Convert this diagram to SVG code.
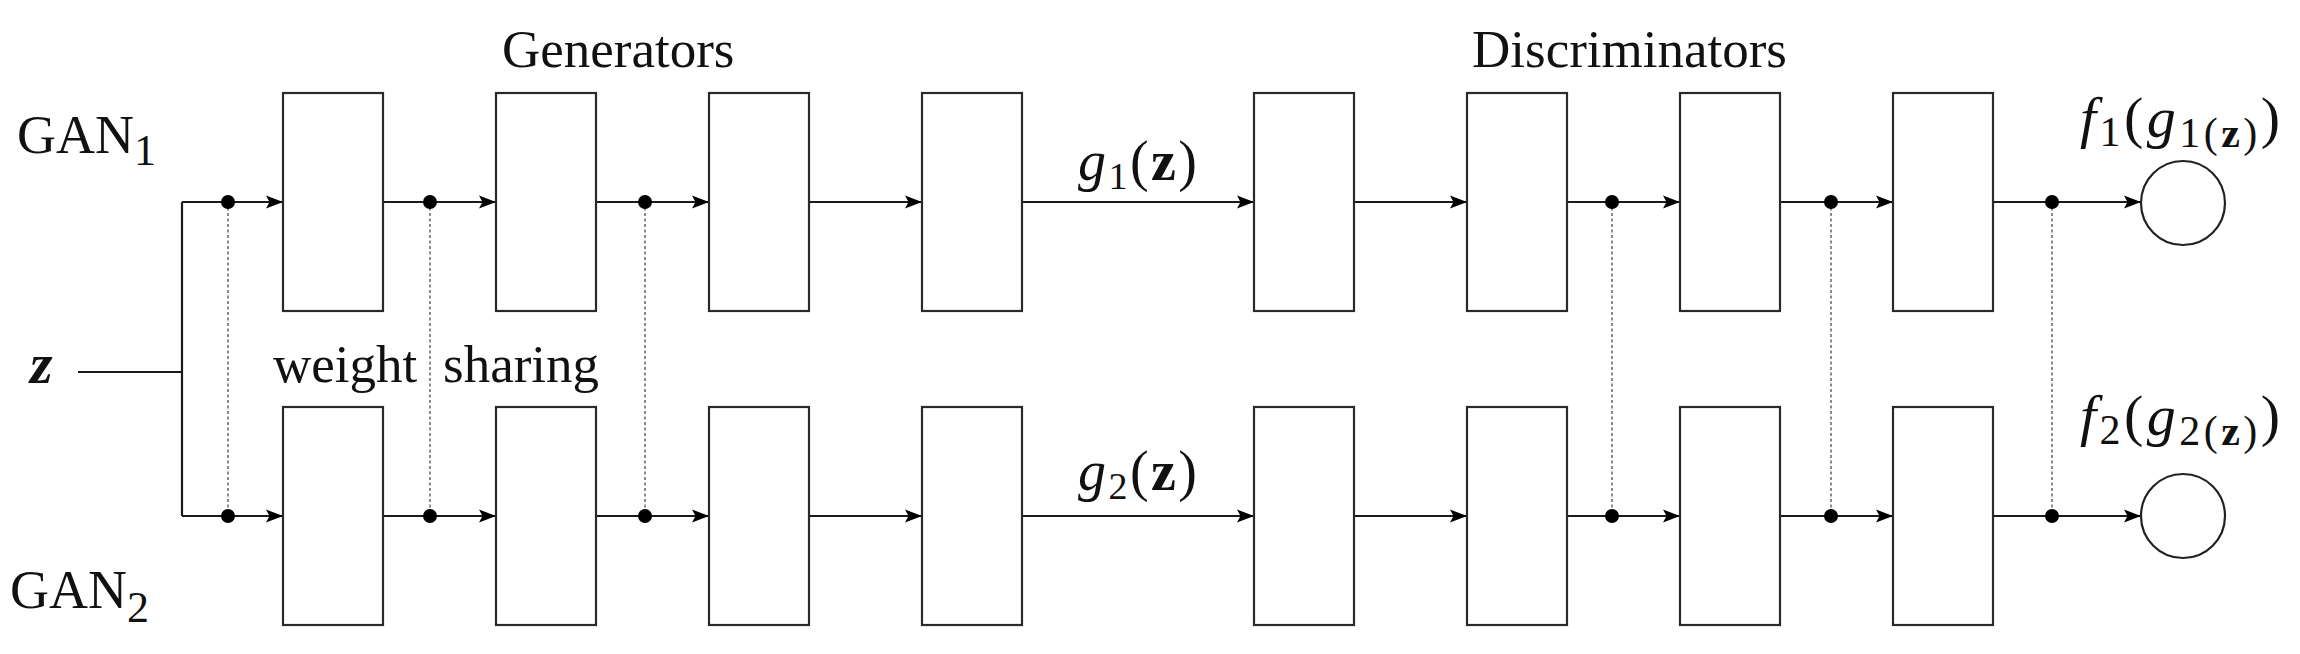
<svg xmlns="http://www.w3.org/2000/svg" width="2300" height="654" viewBox="0 0 2300 654">
<defs>
<style>
.box{fill:#fff;stroke:#2a2a2a;stroke-width:2.2}
.ln{fill:none;stroke:#1a1a1a;stroke-width:2.2}
.dash{fill:none;stroke:#6e6e6e;stroke-width:1.6;stroke-dasharray:3 2.5}
.dot{fill:#000}
.out{fill:#fff;stroke:#222;stroke-width:2.2}
.t{font-family:"Liberation Serif","Times New Roman",serif;fill:#111}
.m{font-family:"Liberation Serif","Times New Roman",serif;fill:#111}
.i{font-style:italic}
.b{font-weight:bold}
</style>
<marker id="arr" markerUnits="userSpaceOnUse" markerWidth="18" markerHeight="14" refX="17" refY="7" orient="auto">
<path d="M0,0.5 L17,7 L0,13.5 L3.5,7 Z" fill="#000"/>
</marker>
</defs>
<rect width="2300" height="654" fill="#fff"/>

<g id="connectors">
<path class="ln" d="M78,372 H182 M182,202 V516"/>
<g class="dash">
<path d="M228,202 V516"/><path d="M430,202 V516"/><path d="M645,202 V516"/>
<path d="M1612,202 V516"/><path d="M1831,202 V516"/><path d="M2052,202 V516"/>
</g>
<g class="ln" marker-end="url(#arr)">
<path d="M182,202 H283"/><path d="M383,202 H496"/><path d="M596,202 H709"/><path d="M809,202 H922"/>
<path d="M1022,202 H1254"/><path d="M1354,202 H1467"/><path d="M1567,202 H1680"/><path d="M1780,202 H1893"/><path d="M1993,202 H2141"/>
<path d="M182,516 H283"/><path d="M383,516 H496"/><path d="M596,516 H709"/><path d="M809,516 H922"/>
<path d="M1022,516 H1254"/><path d="M1354,516 H1467"/><path d="M1567,516 H1680"/><path d="M1780,516 H1893"/><path d="M1993,516 H2141"/>
</g>
<g class="dot">
<circle cx="228" cy="202" r="7"/><circle cx="430" cy="202" r="7"/><circle cx="645" cy="202" r="7"/>
<circle cx="1612" cy="202" r="7"/><circle cx="1831" cy="202" r="7"/><circle cx="2052" cy="202" r="7"/>
<circle cx="228" cy="516" r="7"/><circle cx="430" cy="516" r="7"/><circle cx="645" cy="516" r="7"/>
<circle cx="1612" cy="516" r="7"/><circle cx="1831" cy="516" r="7"/><circle cx="2052" cy="516" r="7"/>
</g>
</g>

<g id="gen1-1"><rect class="box" x="283" y="93" width="100" height="218"/></g>
<g id="gen1-2"><rect class="box" x="496" y="93" width="100" height="218"/></g>
<g id="gen1-3"><rect class="box" x="709" y="93" width="100" height="218"/></g>
<g id="gen1-4"><rect class="box" x="922" y="93" width="100" height="218"/></g>
<g id="dis1-1"><rect class="box" x="1254" y="93" width="100" height="218"/></g>
<g id="dis1-2"><rect class="box" x="1467" y="93" width="100" height="218"/></g>
<g id="dis1-3"><rect class="box" x="1680" y="93" width="100" height="218"/></g>
<g id="dis1-4"><rect class="box" x="1893" y="93" width="100" height="218"/></g>
<g id="gen2-1"><rect class="box" x="283" y="407" width="100" height="218"/></g>
<g id="gen2-2"><rect class="box" x="496" y="407" width="100" height="218"/></g>
<g id="gen2-3"><rect class="box" x="709" y="407" width="100" height="218"/></g>
<g id="gen2-4"><rect class="box" x="922" y="407" width="100" height="218"/></g>
<g id="dis2-1"><rect class="box" x="1254" y="407" width="100" height="218"/></g>
<g id="dis2-2"><rect class="box" x="1467" y="407" width="100" height="218"/></g>
<g id="dis2-3"><rect class="box" x="1680" y="407" width="100" height="218"/></g>
<g id="dis2-4"><rect class="box" x="1893" y="407" width="100" height="218"/></g>
<g id="out1"><circle class="out" cx="2183" cy="203" r="42"/></g>
<g id="out2"><circle class="out" cx="2183" cy="516" r="42"/></g>

<g id="labels">
<text class="t" x="17" y="153" font-size="54">GAN<tspan font-size="44" dy="12">1</tspan></text>
<text class="t" x="10" y="608" font-size="54">GAN<tspan font-size="44" dy="14">2</tspan></text>
<text class="t i b" x="30" y="383" font-size="58">z</text>
<text class="t" x="502" y="67" font-size="53">Generators</text>
<text class="t" x="1472" y="67" font-size="53">Discriminators</text>
<text class="t" x="273" y="382" font-size="53">weight</text>
<text class="t" x="443" y="382" font-size="53">sharing</text>
<text class="m" x="1078" y="180" font-size="56" textLength="119" lengthAdjust="spacing"><tspan class="i">g</tspan><tspan font-size="38" dy="9">1</tspan><tspan dy="-9">(</tspan><tspan class="b">z</tspan>)</text>
<text class="m" x="1078" y="490" font-size="56" textLength="119" lengthAdjust="spacing"><tspan class="i">g</tspan><tspan font-size="38" dy="9">2</tspan><tspan dy="-9">(</tspan><tspan class="b">z</tspan>)</text>
<text class="m" x="2080" y="137" font-size="58" textLength="200" lengthAdjust="spacing"><tspan class="i">f</tspan><tspan font-size="42" dy="9">1</tspan><tspan dy="-9">(</tspan><tspan class="i">g</tspan><tspan font-size="42" dy="10">1(<tspan class="b">z</tspan>)</tspan><tspan dy="-10">)</tspan></text>
<text class="m" x="2080" y="435" font-size="58" textLength="200" lengthAdjust="spacing"><tspan class="i">f</tspan><tspan font-size="42" dy="9">2</tspan><tspan dy="-9">(</tspan><tspan class="i">g</tspan><tspan font-size="42" dy="10">2(<tspan class="b">z</tspan>)</tspan><tspan dy="-10">)</tspan></text>
</g>
</svg>
